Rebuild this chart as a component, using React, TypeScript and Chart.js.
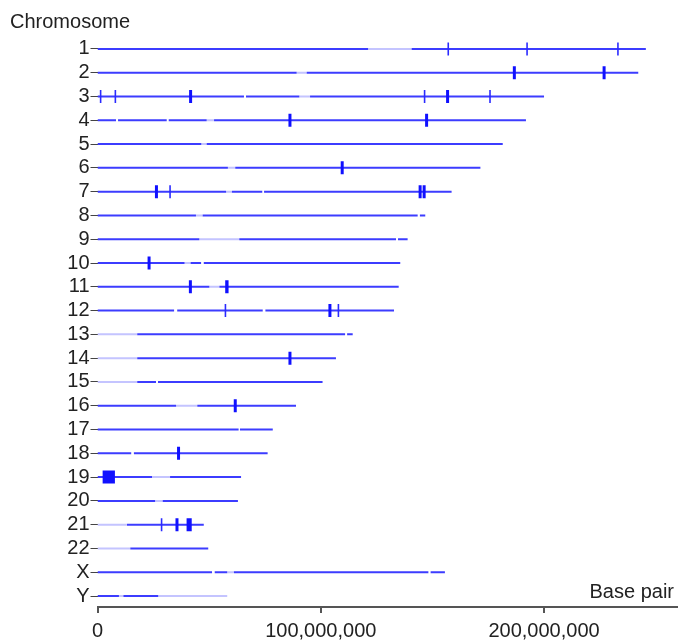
import React, { useEffect, useRef } from 'react';
import { Chart, registerables } from 'chart.js';

Chart.register(...registerables);

// Chromosome names (rows, top to bottom)
const chromosomes = ['1', '2', '3', '4', '5', '6', '7', '8', '9', '10', '11', '12', '13', '14', '15', '16', '17', '18', '19', '20', '21', '22', 'X', 'Y'];

// x-axis tick values in megabase pairs
const xTickValues = [0, 100, 200];

// Dark (regular) segments: [chromosome, start Mb, end Mb]
const darkSegments: [string, number, number][] = [
  ['1', 0, 121.2], ['1', 140.7, 245.6],
  ['2', 0, 89.2], ['2', 93.7, 242.2],
  ['3', 0, 65.6], ['3', 66.5, 90.4], ['3', 95.2, 200],
  ['4', 0, 8.3], ['4', 9.2, 31], ['4', 31.9, 48.9], ['4', 52.2, 191.9],
  ['5', 0, 46.5], ['5', 48.9, 181.5],
  ['6', 0, 58.4], ['6', 61.7, 171.5],
  ['7', 0, 57.6], ['7', 60.2, 73.8], ['7', 74.6, 158.6],
  ['8', 0, 44.1], ['8', 47.1, 143.4], ['8', 144.4, 146.8],
  ['9', 0, 45.6], ['9', 63.5, 133.7], ['9', 134.6, 138.9],
  ['10', 0, 39], ['10', 41.7, 46.4], ['10', 47.6, 135.6],
  ['11', 0, 50.1], ['11', 54.6, 134.9],
  ['12', 0, 34.3], ['12', 35.7, 74], ['12', 75.2, 132.8],
  ['13', 17.8, 110.9], ['13', 111.8, 114.3],
  ['14', 17.8, 106.8],
  ['15', 17.8, 26.2], ['15', 27.1, 100.8],
  ['16', 0, 35.2], ['16', 44.7, 88.9],
  ['17', 0, 63.2], ['17', 63.8, 78.5],
  ['18', 0, 15.1], ['18', 16.3, 76.2],
  ['19', 0, 24.4], ['19', 32.5, 64.3],
  ['20', 0, 25.8], ['20', 29.2, 62.9],
  ['21', 13.2, 47.6],
  ['22', 14.7, 49.6],
  ['X', 0, 51.3], ['X', 52.5, 58.1], ['X', 61.1, 148.2], ['X', 149.2, 155.6],
  ['Y', 0, 9.6], ['Y', 11.6, 27.2],
];

// Light (heterochromatin / centromere) segments
const lightSegments: [string, number, number][] = [
  ['1', 121.2, 140.7],
  ['2', 89.2, 93.7],
  ['3', 90.4, 95.2],
  ['4', 48.9, 52.2],
  ['5', 46.5, 48.9],
  ['6', 58.4, 61.7],
  ['7', 57.6, 60.2],
  ['8', 44.1, 47.1],
  ['9', 45.6, 63.5],
  ['10', 39, 41.7],
  ['11', 50.1, 54.6],
  ['13', 0, 17.8],
  ['14', 0, 17.8],
  ['15', 0, 17.8],
  ['16', 35.2, 44.7],
  ['19', 24.4, 32.5],
  ['20', 25.8, 29.2],
  ['21', 0, 13.2],
  ['22', 0, 14.7],
  ['X', 58.1, 61.1],
  ['Y', 9.6, 11.6], ['Y', 27.2, 58.1],
];

// Thin marks: [chromosome, position Mb]
const thinMarks: [string, number][] = [
  ['1', 157.1], ['1', 192.4], ['1', 233.1],
  ['3', 1.4], ['3', 8.0], ['3', 146.5], ['3', 175.8],
  ['7', 32.5],
  ['12', 57.3], ['12', 107.9],
  ['21', 28.7],
];

// Thick marks: [chromosome, position Mb]
const thickMarks: [string, number][] = [
  ['2', 186.7], ['2', 226.9],
  ['3', 41.7], ['3', 156.8],
  ['4', 86.2], ['4', 147.4],
  ['6', 109.6],
  ['7', 26.4], ['7', 144.5], ['7', 146.3],
  ['10', 23.1],
  ['11', 41.6],
  ['12', 104.1],
  ['14', 86.2],
  ['16', 61.7],
  ['18', 36.3],
  ['21', 35.6],
];

// Block marks: [chromosome, start Mb, end Mb]
const blockMarks: [string, number, number][] = [
  ['11', 57.2, 58.7],
  ['19', 2.3, 7.8],
  ['21', 39.9, 42.2],
];

const MARK_HALF = 0.273;
const rowOf = (c: string) => chromosomes.indexOf(c) + 1;

function segmentPoints(segs: [string, number, number][]) {
  const pts: any[] = [];
  for (const [c, s, e] of segs) {
    const y = rowOf(c);
    pts.push({ x: s, y }, { x: e, y }, { x: null, y: null });
  }
  return pts;
}

function markPoints(marks: [string, number][]) {
  const pts: any[] = [];
  for (const [c, p] of marks) {
    const y = rowOf(c);
    pts.push({ x: p, y: y - MARK_HALF }, { x: p, y: y + MARK_HALF }, { x: null, y: null });
  }
  return pts;
}

const FONT_FAMILY = '"Liberation Sans", Arial, sans-serif';

const titlesPlugin = {
  id: 'axisTitles',
  afterDraw(chart: any) {
    const ctx = chart.ctx;
    ctx.save();
    ctx.font = `20px ${FONT_FAMILY}`;
    ctx.fillStyle = '#222';
    ctx.textBaseline = 'alphabetic';
    ctx.textAlign = 'left';
    ctx.fillText('Chromosome', 10, 28);
    ctx.textAlign = 'right';
    ctx.fillText('Base pair', 674, 598);
    ctx.restore();
  },
};

export default function App() {
  const canvasRef = useRef<HTMLCanvasElement | null>(null);

  useEffect(() => {
    if (!canvasRef.current) return;
    const common = {
      showLine: true,
      pointRadius: 0,
      pointHoverRadius: 0,
      spanGaps: false,
      borderCapStyle: 'butt',
      tension: 0,
    };
    const chart = new Chart(canvasRef.current, {
      type: 'scatter',
      data: {
        datasets: [
          { ...common, label: 'blocks', data: segmentPoints(blockMarks), borderColor: '#1010ff', borderWidth: 13 } as any,
          { ...common, label: 'thick', data: markPoints(thickMarks), borderColor: '#1010ff', borderWidth: 3 } as any,
          { ...common, label: 'thin', data: markPoints(thinMarks), borderColor: '#2a2aff', borderWidth: 1.6 } as any,
          { ...common, label: 'dark', data: segmentPoints(darkSegments), borderColor: '#3c3cff', borderWidth: 2 } as any,
          { ...common, label: 'light', data: segmentPoints(lightSegments), borderColor: '#c4c4ff', borderWidth: 2 } as any,
        ],
      },
      options: {
        animation: false,
        responsive: false,
        events: [],
        layout: { padding: { top: 37, left: 0, right: 0, bottom: 0 } },
        plugins: {
          legend: { display: false },
          tooltip: { enabled: false },
        },
        scales: {
          x: {
            type: 'linear',
            min: 0,
            max: 260,
            afterFit(scale: any) { scale.height = 33; },
            afterBuildTicks(scale: any) { scale.ticks = xTickValues.map((v) => ({ value: v })); },
            ticks: {
              color: '#222',
              font: { family: FONT_FAMILY, size: 20 },
              padding: 6,
              maxRotation: 0,
              autoSkip: false,
              callback: (v: any) => (Number(v) * 1e6).toLocaleString('en-US'),
            },
            grid: { drawOnChartArea: false, tickLength: 6, color: '#555', lineWidth: 2 },
            border: { display: true, color: '#555', width: 2 },
          },
          y: {
            type: 'linear',
            reverse: true,
            min: 0.5,
            max: 24.46,
            afterFit(scale: any) { scale.width = 97.5; },
            afterBuildTicks(scale: any) { scale.ticks = chromosomes.map((_, i) => ({ value: i + 1 })); },
            ticks: {
              color: '#222',
              font: { family: FONT_FAMILY, size: 20 },
              padding: 1,
              autoSkip: false,
              callback: (v: any) => chromosomes[Math.round(Number(v)) - 1] ?? '',
            },
            grid: { drawOnChartArea: false, tickLength: 7, color: '#444', lineWidth: 1 },
            border: { display: false },
          },
        },
      } as any,
      plugins: [titlesPlugin],
    });
    return () => chart.destroy();
  }, []);

  return (
    <div style={{ position: 'absolute', left: 0, top: 0, width: 678, height: 640, background: '#fff' }}>
      <canvas ref={canvasRef} width={678} height={640} style={{ display: 'block' }} />
    </div>
  );
}
